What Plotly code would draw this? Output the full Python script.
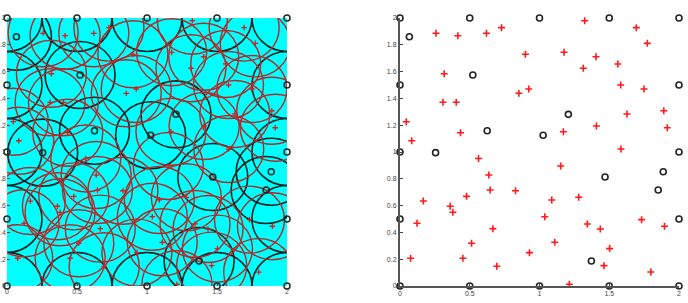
import plotly.graph_objects as go

# ---- data ----
black_x = [0, 0.5, 1, 1.5, 2, 0, 0, 0, 0, 0.5, 1, 1.5, 2, 2, 2, 2,
           0.067, 0.522, 1.207, 0.625, 1.026, 0.255, 1.47, 1.887, 1.851, 1.372]
black_y = [0, 0, 0, 0, 0, 0.5, 1, 1.5, 2, 2, 2, 2, 2, 0.5, 1, 1.5,
           1.86, 1.575, 1.281, 1.159, 1.125, 0.995, 0.813, 0.853, 0.716, 0.187]

red_x = [1.324, 0.258, 0.415, 0.620, 0.728, 1.694, 1.773, 0.899, 1.176, 1.405,
         1.562, 1.314, 0.317, 1.582, 1.749, 0.923, 0.852, 0.308, 0.403, 1.891,
         1.627, 0.045, 1.408, 1.916, 0.434, 1.171, 0.084, 1.584, 0.563,
         1.152, 0.637, 0.646, 0.828, 0.167, 0.477, 1.281, 1.088, 0.360, 0.379,
         1.038, 1.732, 0.122, 1.343, 1.436, 1.896, 0.666, 0.513, 1.109, 1.503,
         0.928, 0.076, 0.451, 1.462, 0.694, 1.798, 1.214]
red_y = [1.980, 1.886, 1.868, 1.886, 1.928, 1.928, 1.811, 1.729, 1.744, 1.711,
         1.657, 1.625, 1.584, 1.500, 1.470, 1.470, 1.438, 1.371, 1.371, 1.308,
         1.284, 1.226, 1.194, 1.181, 1.144, 1.151, 1.084, 1.022, 0.952,
         0.896, 0.828, 0.716, 0.711, 0.634, 0.669, 0.662, 0.642, 0.595, 0.550,
         0.517, 0.495, 0.468, 0.463, 0.425, 0.446, 0.428, 0.319, 0.326, 0.279,
         0.249, 0.207, 0.207, 0.152, 0.147, 0.104, 0.013]

radius = 0.25
x_ticks = [0, 0.5, 1, 1.5, 2]
x_tick_text = ["0", "0.5", "1", "1.5", "2"]
y_ticks = [0, 0.2, 0.4, 0.6, 0.8, 1, 1.2, 1.4, 1.6, 1.8, 2]
y_tick_text = ["0", "0.2", "0.4", "0.6", "0.8", "1", "1.2", "1.4", "1.6", "1.8", "2"]

W, H = 688, 303
fig = go.Figure()

# left panel markers
fig.add_trace(go.Scatter(x=black_x, y=black_y, mode="markers", xaxis="x", yaxis="y",
                         marker=dict(symbol="circle-open", size=6, color="#1a2a2a",
                                     line=dict(width=1.5, color="#1a2a2a")),
                         cliponaxis=False, showlegend=False))
fig.add_trace(go.Scatter(x=red_x, y=red_y, mode="markers", xaxis="x", yaxis="y",
                         marker=dict(symbol="cross-thin", size=4,
                                     line=dict(width=1.3, color="#d02020")),
                         showlegend=False))
# right panel markers
fig.add_trace(go.Scatter(x=black_x, y=black_y, mode="markers", xaxis="x2", yaxis="y2",
                         marker=dict(symbol="circle-open", size=6, color="#222222",
                                     line=dict(width=1.6, color="#222222")),
                         cliponaxis=False, showlegend=False))
fig.add_trace(go.Scatter(x=red_x, y=red_y, mode="markers", xaxis="x2", yaxis="y2",
                         marker=dict(symbol="cross-thin", size=5,
                                     line=dict(width=1.6, color="#ff1a1a")),
                         cliponaxis=False, showlegend=False))

shapes = [dict(type="rect", xref="x domain", yref="y domain", x0=0, x1=1, y0=0, y1=1,
               fillcolor="#00ffff", line=dict(width=0), layer="below")]
for bx, by in zip(black_x, black_y):
    shapes.append(dict(type="circle", xref="x", yref="y",
                       x0=bx - radius, x1=bx + radius, y0=by - radius, y1=by + radius,
                       line=dict(color="#0d1c1c", width=1.6), layer="below"))
for rx, ry in zip(red_x, red_y):
    shapes.append(dict(type="circle", xref="x", yref="y",
                       x0=rx - radius, x1=rx + radius, y0=ry - radius, y1=ry + radius,
                       line=dict(color="#b22a2a", width=1.4), layer="below"))

tickfont = dict(family="Liberation Sans, Arial, sans-serif", size=7, color="#444444")
common_x = dict(range=[0, 2], tickvals=x_ticks, ticktext=x_tick_text, showgrid=False,
                zeroline=False, ticks="inside", ticklen=3, tickcolor="#444444",
                tickfont=tickfont, automargin=False, fixedrange=True)
common_y = dict(range=[0, 2], tickvals=y_ticks, ticktext=y_tick_text, showgrid=False,
                zeroline=False, ticks="inside", ticklen=3, tickcolor="#444444",
                tickfont=tickfont, automargin=False, fixedrange=True)

yd = [1 - 286 / H, 1 - 18 / H]
fig.update_layout(
    width=W, height=H,
    margin=dict(l=0, r=0, t=0, b=0),
    paper_bgcolor="white", plot_bgcolor="white",
    template="none",
    showlegend=False,
    shapes=shapes,
    xaxis=dict(domain=[7 / W, 287 / W], anchor="y", showline=False, **common_x),
    yaxis=dict(domain=yd, anchor="x", showline=False, **common_y),
    xaxis2=dict(domain=[400 / W, 679 / W], anchor="y2", showline=True,
                linecolor="#555555", linewidth=2, **common_x),
    yaxis2=dict(domain=yd, anchor="x2", showline=True,
                linecolor="#555555", linewidth=2, **common_y),
)

fig.write_html("out.html")
